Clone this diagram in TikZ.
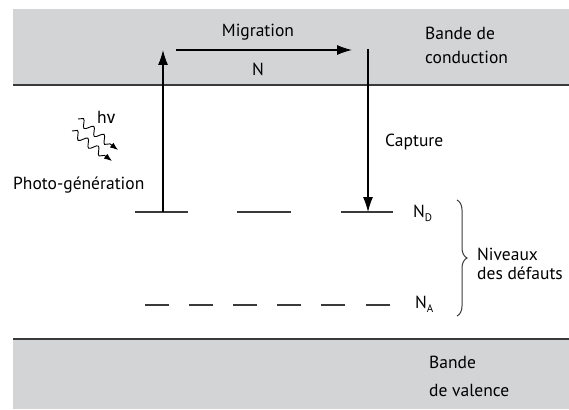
\documentclass[tikz,border=0pt]{standalone}
\usepackage{fontspec}
\setmainfont{PT Sans}
\newfontfamily\greekfont{Fira Sans}
\usepackage{tikz}
\usetikzlibrary{arrows.meta,positioning,decorations.pathmorphing,decorations.pathreplacing}
\definecolor{bandgray}{HTML}{D3D4D6}
\definecolor{ink}{HTML}{3A3A3A}
\newcommand{\sublevel}[1]{N\raisebox{-0.45ex}{\fontsize{11}{11}\selectfont #1}}

\begin{document}
\begin{tikzpicture}[
      x=1pt, y=-1pt,
      band/.style={fill=bandgray, draw=none},
      bandedge/.style={draw=ink, line width=1.9pt},
      lvl/.style={draw=ink, line width=1.4pt},
      trans/.style={draw=black, line width=1.1pt, -{Latex[length=15pt,width=10pt]}},
      photon/.style={draw=black, line width=0.9pt, decorate,
        decoration={snake, amplitude=3.8pt, segment length=13pt, post length=7pt},
        -{Latex[length=8pt,width=6pt]}},
      lab/.style={inner sep=0, font={\fontsize{17.5}{20}\selectfont}, text=black},
      note/.style={lab, align=left, anchor=west}
  ]
  \useasboundingbox (0,0) rectangle (569,409);

  % bandes
  \fill[band] (13,9.5) rectangle (569,85);
  \draw[bandedge] (13,85) -- (569,85);
  \fill[band] (13,339) rectangle (569,409);
  \draw[bandedge] (13,339) -- (569,339);

  % niveaux
  \foreach \a/\b in {135/188, 237/291, 341/393}
    \draw[lvl] (\a,212) -- (\b,212);
  \foreach \a in {145,189,233,277,321,366}
    \draw[lvl] (\a,305) -- ++(24,0);

  % points des transitions
  \coordinate (genBot) at (163,212);
  \coordinate (genTop) at (163,50);
  \coordinate (migL) at (176,50);
  \coordinate (migR) at (352,50);
  \coordinate (capTop) at (368,49);
  \coordinate (capBot) at (368,212);
  \coordinate (ph1a) at (78,119);
  \coordinate (ph1b) at (118,150);
  \coordinate (ph2a) at (72,131);
  \coordinate (ph2b) at (112,161);

  \draw[trans] (genBot) -- (genTop);
  \draw[trans] (migL) -- (migR);
  \draw[trans] (capTop) -- (capBot);
  \draw[photon] (ph1a) -- (ph1b);
  \draw[photon] (ph2a) -- (ph2b);

  % textes
  \node[lab] (mig) at (258,32) {Migration};
  \node[lab] (nmig) at (258,69) {N};
  \node[note, font={\fontsize{17.5}{24}\selectfont}] (cond) at (425,45) {Bande de\\conduction};
  \node[note, font={\fontsize{17.5}{28}\selectfont}] (val) at (429,376) {Bande\\de valence};
  \node[note] (cap) at (385,142) {Capture};
  \node[note] (hnu) at (97,117) {h{\greekfont ν}};
  \node[note] (gen) at (13,185) {Photo-génération};
  \node[note] (nd) at (413,213) {\sublevel{D}};
  \node[note] (na) at (415,304) {\sublevel{A}};
  \node[note, font={\fontsize{17.5}{19.5}\selectfont}] (def) at (477,264) {Niveaux\\des défauts};

  \coordinate (brTop) at (457,200);
  \coordinate (brBot) at (457,316);
  \draw[draw=ink, line width=1pt, decorate,
    decoration={brace, amplitude=10pt}] (brTop) -- (brBot);

\end{tikzpicture}
\end{document}
